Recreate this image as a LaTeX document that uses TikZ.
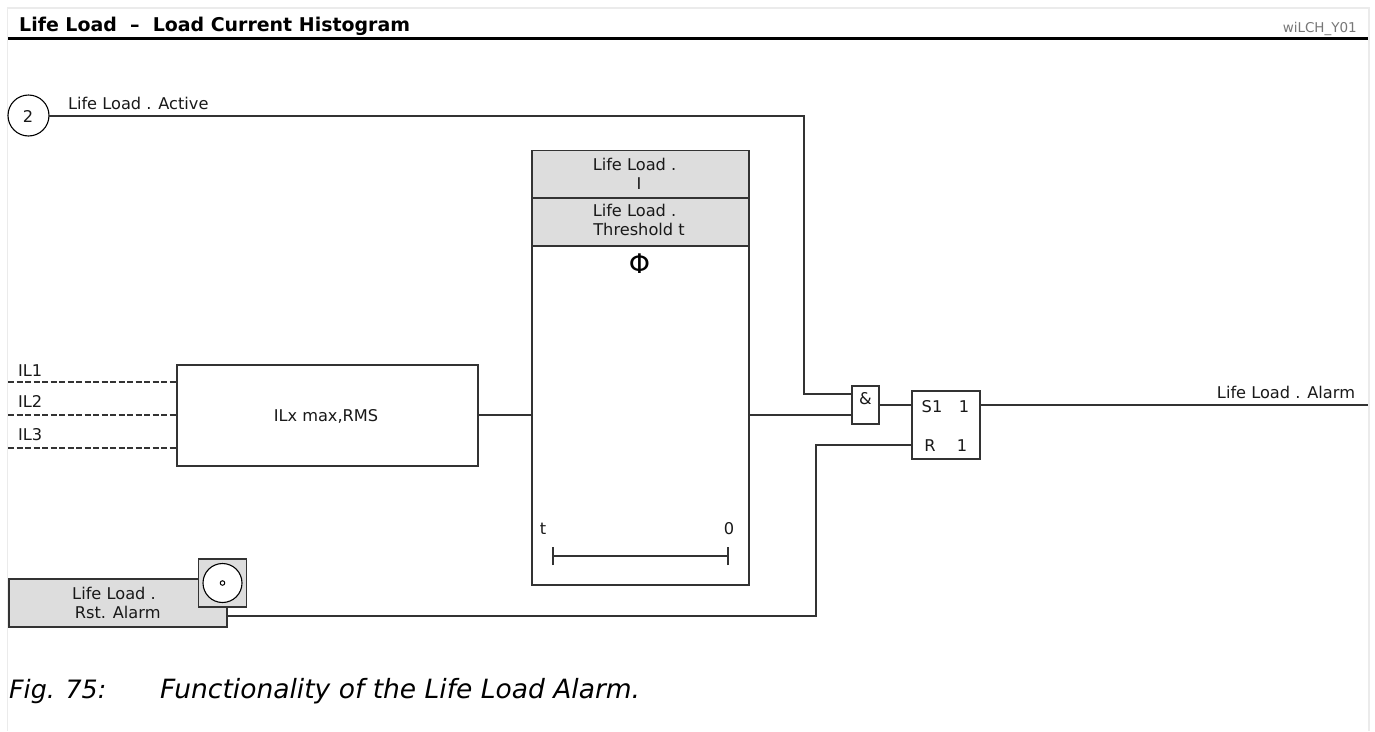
\documentclass[tikz,border=0pt]{standalone}
\usepackage{fontspec}
\setmainfont{DejaVu Sans}
\definecolor{fill1}{HTML}{DDDDDD}
\definecolor{frameg}{HTML}{EBEBEB}
\definecolor{lineg}{HTML}{333333}
\definecolor{idg}{HTML}{777777}
\newcommand{\trail}[1]{\rule{#1}{0pt}}
\tikzset{
  x=1pt,y=-1pt,
  wire/.style={draw=lineg,line width=1.3pt},
  dwire/.style={draw=lineg,line width=1.3pt,dash pattern=on 6pt off 2.5pt},
  blk/.style={draw=lineg,line width=1.3pt,rectangle,inner sep=0pt,outer sep=0pt},
  gray blk/.style={blk,fill=fill1},
  lbl/.style={inner sep=0pt,outer sep=0pt,align=center,font=\fontsize{16.2}{19}\selectfont,text=black!90},
}
\begin{document}
\begin{tikzpicture}
\useasboundingbox (0,0) rectangle (1375,731);
\fill[white] (0,0) rectangle (1375,731);
\draw[frameg,line width=1.6pt] (7.5,731) -- (7.5,8) -- (1369,8) -- (1369,731);
\node[inner sep=0pt,anchor=base west,font=\bfseries\fontsize{18.95}{22}\selectfont] (title) at (19,31) {Life Load\ \ –\ \ Load Current Histogram};
\node[inner sep=0pt,anchor=base east,text=idg,font=\fontsize{13.5}{16}\selectfont] (id) at (1357,32) {wiLCH\_Y01};
\coordinate (hl) at (8,38.5); \coordinate (hr) at (1368,38.5);
\draw[black,line width=2.6pt] (hl) -- (hr);

% input circle
\node[circle,draw=black,line width=1.1pt,minimum size=41pt,inner sep=0pt,outer sep=0pt] (c2) at (28.5,115.5) {};
\node[lbl] (c2t) at (28,116.5) {2};
\node[lbl,anchor=base west] (lact) at (68,109) {Life Load . Active};

% function block
\node[blk,minimum width=301pt,minimum height=101pt] (ilx) at (327.5,415.5) {};
\node[lbl] (ilxt) at (326,416) {ILx max,RMS};
\coordinate (il1) at (8,382); \coordinate (il2) at (8,415); \coordinate (il3) at (8,448);
\node[lbl,anchor=base west] (tl1) at (18,376.5) {IL1};
\node[lbl,anchor=base west] (tl2) at (18,407) {IL2};
\node[lbl,anchor=base west] (tl3) at (18,440) {IL3};

% timer
\node[blk,minimum width=217pt,minimum height=434pt] (tm) at (640.5,368) {};
\node[gray blk,minimum width=217pt,minimum height=47.5pt] (g1) at (640.5,174.5) {};
\node[gray blk,minimum width=217pt,minimum height=48pt] (g2) at (640.5,222) {};
\node[lbl] (g1t) at (639,173.5) {Life Load .\trail{9pt}\\I};
\node[lbl] (g2t) at (639,220) {Life Load .\trail{9pt}\\Threshold t};
\node[inner sep=0pt,font=\fontsize{27}{29}\selectfont] (phi) at (639.5,264) {Φ};
\node[lbl] (tt) at (543,528.5) {t};
\node[lbl] (t0) at (729,529) {0};
\coordinate (b1) at (553,556); \coordinate (b2) at (728,556);
\draw[wire] (b1) -- (b2);
\draw[wire] ([yshift=-9pt]b1) -- ([yshift=9pt]b1);
\draw[wire] ([yshift=-9pt]b2) -- ([yshift=9pt]b2);

% logic
\node[blk,minimum width=27pt,minimum height=38pt] (and) at (865.5,405) {};
\node[lbl] (amp) at (865.5,399) {\&};
\node[blk,minimum width=68pt,minimum height=68pt] (sr) at (946,425) {};
\node[lbl] (s1) at (932,406.5) {S1};
\node[lbl] (q1) at (964,406.5) {1};
\node[lbl] (rr) at (930,445.5) {R};
\node[lbl] (q2) at (962,445.5) {1};
\node[lbl,anchor=base east] (lal) at (1355,398) {Life Load . Alarm};
\coordinate (out) at (1368,405);

% reset
\node[gray blk,minimum width=218pt,minimum height=48pt] (rst) at (118,603) {};
\node[lbl] (rstt) at (117.7,602.5) {Life Load .\trail{7.4pt}\\Rst. Alarm};
\node[gray blk,minimum width=48pt,minimum height=48pt] (btn) at (222.5,583) {};
\node[circle,draw=black,fill=white,line width=1.1pt,minimum size=39pt,inner sep=0pt] (bc) at (222.5,583) {};
\node[circle,draw=black,line width=1pt,minimum size=4.5pt,inner sep=0pt] (bd) at (222.5,583) {};

% wires
\draw[wire] (c2.east|-0,116) -- (804,116) |- (852,394);
\draw[dwire] (il1) -- (il1-|ilx.west);
\draw[dwire] (il2) -- (il2-|ilx.west);
\draw[dwire] (il3) -- (il3-|ilx.west);
\draw[wire] (ilx.east|-il2) -- (tm.west|-il2);
\draw[wire] (tm.east|-il2) -- (and.west|-il2);
\draw[wire] (and.east|-out) -- (sr.west|-out);
\draw[wire] (sr.east|-out) -- (out);
\draw[wire] (sr.west|-0,445) -- (816,445) -- (816,616) -- (rst.east|-0,616);

% caption
\node[inner sep=0pt,anchor=base west,font=\itshape\fontsize{25.3}{28}\selectfont] (fig) at (9,698) {Fig. 75:};
\node[inner sep=0pt,anchor=base west,font=\itshape\fontsize{26.5}{28}\selectfont] (cap) at (160,698) {Functionality of the Life Load Alarm.};
\end{tikzpicture}
\end{document}
